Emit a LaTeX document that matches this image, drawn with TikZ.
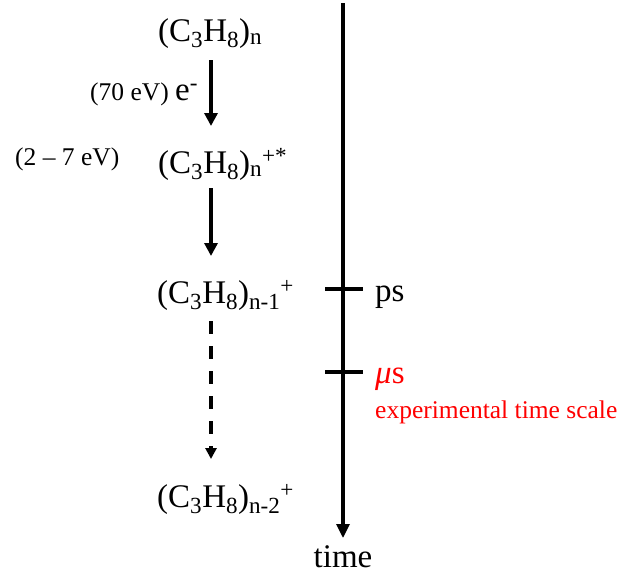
\documentclass[tikz,border=0pt]{standalone}
\usepackage{fontspec}
\setmainfont{Liberation Serif}
\usetikzlibrary{arrows.meta}
\definecolor{myred}{RGB}{255,0,0}
\newcommand{\bigf}{\fontsize{33}{39}\selectfont}
\newcommand{\smf}{\fontsize{25.5}{30}\selectfont}
\newcommand{\sbs}[1]{\textsubscript{#1}}
\newcommand{\sps}[1]{\textsuperscript{#1}}
\tikzset{
  formula/.style={anchor=base west, inner sep=0pt, font=\bigf},
  lbl/.style={anchor=base west, inner sep=0pt, font=\smf},
  solidarr/.style={line width=3.4pt, -{Triangle[length=13pt,width=13pt]}},
  dasharr/.style={line width=3.4pt, dash pattern=on 13pt off 12pt, -{Triangle[length=11pt,width=11pt]}},
  timearr/.style={line width=3.2pt, -{Triangle[length=14pt,width=13pt]}},
  tick/.style={line width=3.2pt}
}
\begin{document}
\begin{tikzpicture}[x=1pt,y=-1pt]
\useasboundingbox (0,0) rectangle (638,576);
% species
\node[formula] (m0) at (158,41) {(C\sbs{3}H\sbs{8})\sbs{n}};
\node[formula] (m1) at (158,173) {(C\sbs{3}H\sbs{8})\sbs{n}\sps{+*}};
\node[formula] (m2) at (157,303) {(C\sbs{3}H\sbs{8})\sbs{n-1}\sps{+}};
\node[formula] (m3) at (157,507) {(C\sbs{3}H\sbs{8})\sbs{n-2}\sps{+}};
% labels
\node[lbl] (l70) at (90,100) {(70 eV) {\bigf e\sps{-}}};
\node[lbl] (l27) at (15,165) {(2 -- 7 eV)};
% arrows
\coordinate (a1s) at (211,60);
\coordinate (a1e) at (211,126);
\coordinate (a2s) at (211,188);
\coordinate (a2e) at (211,256);
\coordinate (a3s) at (211,321);
\coordinate (a3e) at (211,459);
\draw[solidarr] (a1s) -- (a1e);
\draw[solidarr] (a2s) -- (a2e);
\draw[dasharr] (a3s) -- (a3e);
% time axis
\coordinate (ts) at (343,3);
\coordinate (te) at (343,538);
\draw[timearr] (ts) -- (te);
\coordinate (p1) at (325,289);
\coordinate (p2) at (363,289);
\coordinate (u1) at (325,372);
\coordinate (u2) at (363,372);
\draw[tick] (p1) -- (p2);
\draw[tick] (u1) -- (u2);
\node[formula] (ps) at (375,301) {ps};
\node[formula, text=myred] (us) at (375,383) {\textit{μ}s};
\node[lbl, text=myred] (exp) at (375,418) {experimental time scale};
\node[formula, anchor=base] (time) at (343,567) {time};
\end{tikzpicture}
\end{document}
